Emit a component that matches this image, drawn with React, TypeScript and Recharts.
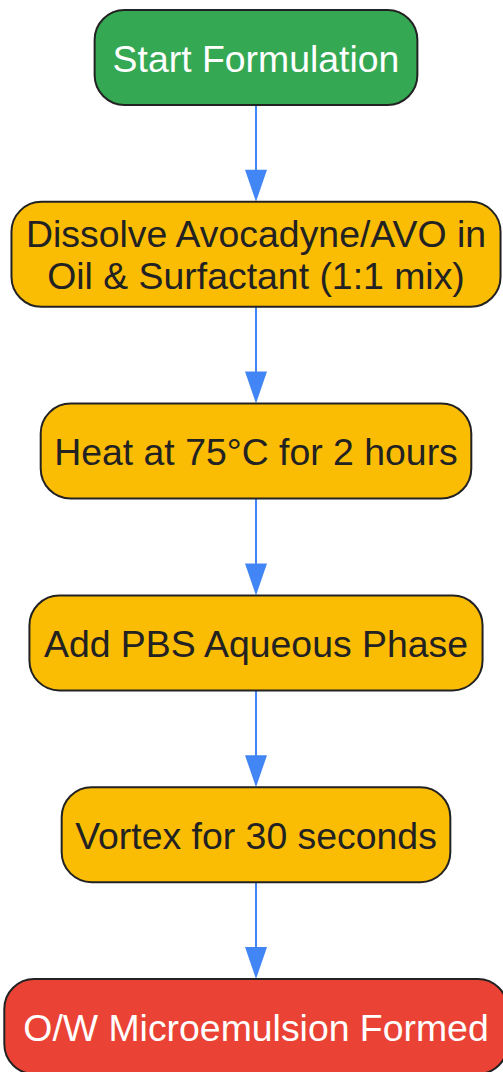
import React from "react";
import { ScatterChart, Scatter, XAxis, YAxis, ReferenceLine } from "recharts";

// flow steps, top to bottom
const stepLabels = [
  "Start Formulation",
  "Dissolve Avocadyne/AVO in\nOil & Surfactant (1:1 mix)",
  "Heat at 75°C for 2 hours",
  "Add PBS Aqueous Phase",
  "Vortex for 30 seconds",
  "O/W Microemulsion Formed",
];
const stepKinds = ["start", "process", "process", "process", "process", "end"];

const W = 503;
const H = 1072;
const FONT = "'Liberation Sans', Arial, Helvetica, sans-serif";
const FONT_SIZE = 37.4;
const LINE_H = 42;
const CENTER_X = 256;

const kindFill: Record<string, string> = {
  start: "#34A853",
  process: "#FBBC04",
  end: "#EA4335",
};
const kindText: Record<string, string> = {
  start: "#ffffff",
  process: "#222222",
  end: "#ffffff",
};
// start/end pills get a little more side padding
const kindPad: Record<string, number> = { start: 36, process: 27, end: 38 };

let ctx: CanvasRenderingContext2D | null = null;
function textWidth(s: string) {
  if (!ctx) ctx = document.createElement("canvas").getContext("2d");
  if (!ctx) return s.length * FONT_SIZE * 0.5;
  ctx.font = `${FONT_SIZE}px ${FONT}`;
  return ctx.measureText(s).width;
}

function buildNodes() {
  let top = 10;
  return stepLabels.map((label, i) => {
    const lines = label.split("\n");
    const h = lines.length > 1 ? 105 : 95;
    const kind = stepKinds[i];
    const w = Math.max(...lines.map(textWidth)) + kindPad[kind];
    const node = {
      x: CENTER_X,
      y: top + h / 2,
      top,
      bottom: top + h,
      lines,
      w,
      h,
      kind,
    };
    top += h + 96.8;
    return node;
  });
}

const StepBox = (props: any) => {
  const { cx, cy, payload } = props;
  const { w, h, lines, kind } = payload;
  const n = lines.length;
  return (
    <g>
      <rect
        x={cx - w / 2}
        y={cy - h / 2}
        width={w}
        height={h}
        rx={30}
        ry={30}
        fill={kindFill[kind]}
        stroke="#222222"
        strokeWidth={2}
      />
      <text textAnchor="middle" fontFamily={FONT} fontSize={FONT_SIZE} fill={kindText[kind]}>
        {lines.map((l: string, j: number) => (
          <tspan key={j} x={cx} y={cy + (j - (n - 1) / 2) * LINE_H + 14}>
            {l}
          </tspan>
        ))}
      </text>
    </g>
  );
};

const Arrow = (props: any) => {
  const { x1, y1, x2, y2 } = props;
  const head = 32;
  const half = 11;
  return (
    <g>
      <line x1={x1} y1={y1} x2={x2} y2={y2 - head + 2} stroke="#4285F4" strokeWidth={2} />
      <polygon
        points={`${x2 - half},${y2 - head} ${x2 + half},${y2 - head} ${x2},${y2}`}
        fill="#4285F4"
      />
    </g>
  );
};

export default function App() {
  const nodes = buildNodes();
  return (
    <div style={{ position: "absolute", left: 0, top: 0, background: "#fff" }}>
      <ScatterChart width={W} height={H} margin={{ top: 0, right: 0, bottom: 0, left: 0 }}>
        <XAxis type="number" dataKey="x" domain={[0, W]} hide />
        <YAxis type="number" dataKey="y" domain={[0, H]} reversed hide />
        {nodes.slice(1).map((nd, i) => (
          <ReferenceLine
            key={i}
            segment={[
              { x: CENTER_X, y: nodes[i].bottom },
              { x: CENTER_X, y: nd.top },
            ]}
            ifOverflow="visible"
            shape={Arrow}
          />
        ))}
        <Scatter data={nodes} shape={StepBox} isAnimationActive={false} />
      </ScatterChart>
    </div>
  );
}
